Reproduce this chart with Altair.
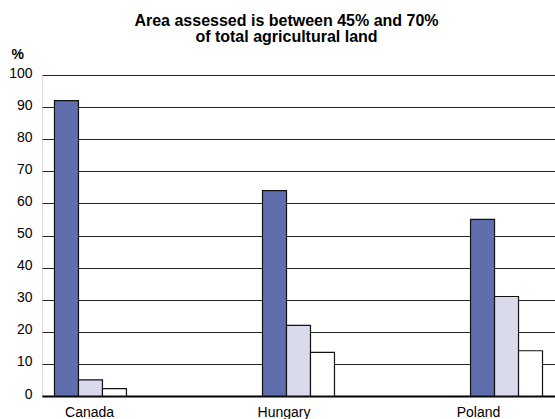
import altair as alt
import pandas as pd

# Share of assessed agricultural land by class, per country (%)
countries = ["Canada", "Hungary", "Poland"]
series = ["Series 1", "Series 2", "Series 3"]
values = {
    "Series 1": [92, 64, 55],
    "Series 2": [5, 22, 31],
    "Series 3": [2.3, 13.6, 14.1],
}
colors = ["#5f6fae", "#dadaed", "#ffffff"]
y_ticks = [0, 10, 20, 30, 40, 50, 60, 70, 80, 90, 100]

rows = []
for s in series:
    for c, v in zip(countries, values[s]):
        rows.append({"country": c, "series": s, "value": v})
df = pd.DataFrame(rows)
labels_df = pd.DataFrame({"country": countries, "value": [0] * len(countries)})

FONT = "Liberation Sans"

y_enc = alt.Y(
    "value:Q",
    scale=alt.Scale(domain=[0, 100], nice=False),
    axis=alt.Axis(
        values=y_ticks, title="%", titleAngle=0, titleX=-31, titleY=-14,
        titleAlign="left", titleBaseline="bottom",
        titleFont=FONT, titleFontSize=14, titleFontWeight="bold", titleColor="#000000",
        labelFont=FONT, labelFontSize=14, labelColor="#000000", labelPadding=10,
        labelBaseline="middle", labelOffset=-2,
        ticks=False, domain=False, grid=True, gridColor="#222222", gridWidth=1,
    ),
)

bars = alt.Chart(df).mark_bar(stroke="#111111", strokeWidth=1.2).encode(
    x=alt.X(
        "country:N",
        sort=countries,
        scale=alt.Scale(paddingInner=0.654, paddingOuter=0.06),
        axis=alt.Axis(
            title=None, labels=False, ticks=False, domain=True, orient="bottom",
            domainColor="#000000", domainWidth=2,
        ),
    ),
    xOffset=alt.XOffset("series:N", sort=series, scale=alt.Scale(paddingInner=0, paddingOuter=0)),
    y=y_enc,
    color=alt.Color("series:N", sort=series, scale=alt.Scale(domain=series, range=colors), legend=None),
)

# Country names along the bottom, on their own point scale
names = alt.Chart(labels_df).mark_point(opacity=0).encode(
    x=alt.X(
        "country:N",
        sort=countries,
        scale=alt.Scale(type="point", padding=0.319),
        axis=alt.Axis(
            title=None, labelAngle=0, ticks=False, domain=False, orient="bottom",
            labelPadding=9, labelOffset=-15,
            labelFont=FONT, labelFontSize=14, labelColor="#000000",
        ),
    ),
    y=y_enc,
)

chart = alt.layer(bars, names).resolve_scale(x="independent").properties(
    width=513,
    height=321,
    autosize="none",
    padding={"left": 42, "top": 75, "right": 0, "bottom": 23},
    title=alt.TitleParams(
        text=["Area assessed is between 45% and 70%", "of total agricultural land"],
        font=FONT, fontSize=16, fontWeight="bold", color="#000000",
        anchor="middle", frame="group", offset=2, dx=-12, lineHeight=16,
    ),
).configure_view(
    fill="#e6e6e6", stroke=None
).configure(background="#ffffff")

chart.save("out.html", embed_options={"renderer": "svg", "actions": False})
